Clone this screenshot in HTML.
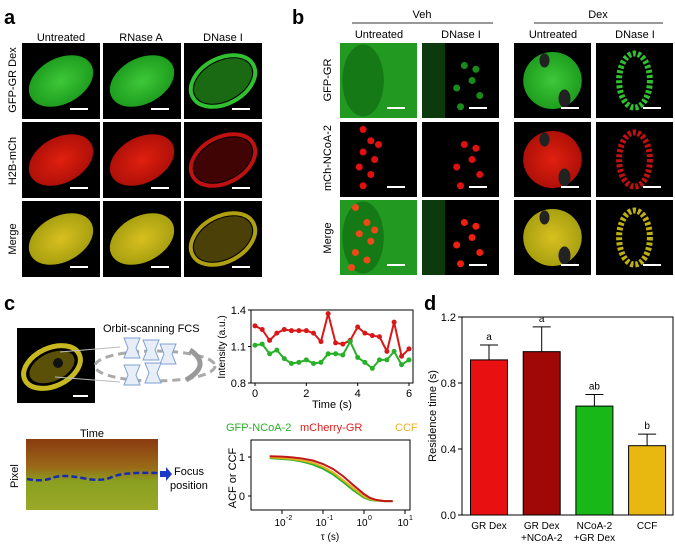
<!DOCTYPE html>
<html><head><meta charset="utf-8">
<style>
body{margin:0;background:#fff;}
#root{position:relative;width:675px;height:545px;overflow:hidden;font-family:"Liberation Sans",sans-serif;}
svg text{font-family:"Liberation Sans",sans-serif;}
</style></head>
<body>
<div id="root">
<svg id="fig" width="675" height="545" viewBox="0 0 675 545" xmlns="http://www.w3.org/2000/svg">
<defs>
<radialGradient id="gG"><stop offset="0" stop-color="#3fc83a"/><stop offset="1" stop-color="#1e9e1e"/></radialGradient>
<radialGradient id="gR"><stop offset="0" stop-color="#e02010"/><stop offset="1" stop-color="#b01008"/></radialGradient>
<radialGradient id="gY"><stop offset="0" stop-color="#d8c020"/><stop offset="1" stop-color="#a8a010"/></radialGradient>
<linearGradient id="kymo" x1="0" y1="0" x2="0" y2="1"><stop offset="0" stop-color="#8a3a10"/><stop offset="0.4" stop-color="#9a6a18"/><stop offset="0.6" stop-color="#8aa020"/><stop offset="1" stop-color="#9aa828"/></linearGradient>
</defs>

<!-- Panel a -->
<text x="4" y="24" font-size="20" font-weight="bold">a</text>
<g font-size="11" text-anchor="middle">
<text x="61" y="41">Untreated</text>
<text x="141" y="41">RNase A</text>
<text x="223" y="41">DNase I</text>
<text transform="translate(16,80) rotate(-90)">GFP-GR Dex</text>
<text transform="translate(16,161) rotate(-90)">H2B-mCh</text>
<text transform="translate(16,239) rotate(-90)">Merge</text>
</g>
<g id="aTiles"></g>

<!-- Panel b -->
<text x="292" y="24" font-size="20" font-weight="bold">b</text>
<g font-size="11" text-anchor="middle">
<text x="422" y="18">Veh</text>
<line x1="352" y1="23" x2="493" y2="23" stroke="#333" stroke-width="1"/>
<text x="598" y="18">Dex</text>
<line x1="534" y1="23" x2="663" y2="23" stroke="#333" stroke-width="1"/>
<text x="379" y="38">Untreated</text>
<text x="461" y="38">DNase I</text>
<text x="553" y="38">Untreated</text>
<text x="635" y="38">DNase I</text>
<text transform="translate(331,80) rotate(-90)">GFP-GR</text>
<text transform="translate(331,158) rotate(-90)">mCh-NCoA-2</text>
<text transform="translate(331,238) rotate(-90)">Merge</text>
</g>
<g id="bTiles"></g>

<!-- Panel c -->
<text x="4" y="310" font-size="20" font-weight="bold">c</text>
<rect x="17" y="328" width="78" height="75" fill="#000"/>
<ellipse cx="52" cy="367" rx="30" ry="19" transform="rotate(-25 52 367)" fill="none" stroke="#c8b820" stroke-width="5"/>
<ellipse cx="52" cy="367" rx="24" ry="14" transform="rotate(-25 52 367)" fill="#5a5008"/>
<circle cx="58" cy="363" r="5" fill="#111"/>
<line x1="73" y1="396" x2="88" y2="396" stroke="#fff" stroke-width="2"/>
<line x1="60" y1="352" x2="120" y2="347" stroke="#bbb"/><line x1="55" y1="377" x2="120" y2="382" stroke="#bbb"/>
<text x="103" y="332" font-size="11">Orbit-scanning FCS</text>
<ellipse cx="155" cy="366" rx="60" ry="15" fill="none" stroke="#aaa" stroke-width="3" stroke-dasharray="8 5"/>
<g fill="#e8eef8" stroke="#7ea0d0" stroke-width="1">
<path d="M124 338 h16 l-4 10 l4 10 h-16 l4 -10z"/><path d="M143 340 h16 l-4 10 l4 10 h-16 l4 -10z"/><path d="M160 344 h16 l-4 10 l4 10 h-16 l4 -10z"/>
<path d="M124 365 h16 l-4 10 l4 10 h-16 l4 -10z"/><path d="M145 363 h16 l-4 10 l4 10 h-16 l4 -10z"/>
</g>
<path d="M190 350 q22 15 -4 30" fill="none" stroke="#999" stroke-width="5"/>
<text x="92" y="437" font-size="11" text-anchor="middle">Time</text>
<rect x="26" y="439" width="132" height="71" fill="url(#kymo)"/>
<path d="M27 479 q15 3 25 -1 t30 0 t30 -1 t46 -4" fill="none" stroke="#1a2ab0" stroke-width="2.5" stroke-dasharray="6 3"/>
<path d="M160 471 l6 0 l0 -4 l6 7 l-6 7 l0 -4 l-6 0z" fill="#1a3ac8"/>
<text x="174" y="475" font-size="11">Focus</text>
<text x="170" y="489" font-size="11">position</text>
<text transform="translate(18,488) rotate(-90)" font-size="11">Pixel</text>

<g id="intChart"></g>
<g id="acfChart"></g>

<!-- Panel d -->
<text x="424" y="310" font-size="20" font-weight="bold">d</text>
<g id="barChart"></g>
</svg>
</div>
<script>
// ---- data ----
const intTimes = [0,0.28,0.57,0.85,1.14,1.42,1.71,2.0,2.28,2.57,2.85,3.14,3.42,3.71,4.0,4.28,4.57,4.85,5.14,5.42,5.71,6.0];
const intRed = [1.27,1.24,1.15,1.21,1.24,1.23,1.23,1.23,1.21,1.14,1.37,1.13,1.12,1.15,1.26,1.21,1.19,1.18,1.06,1.30,1.02,1.08];
const intGreen = [1.11,1.12,1.04,1.07,1.00,0.96,0.97,0.99,0.96,0.97,1.04,1.04,1.03,1.14,1.01,0.97,0.92,0.99,0.99,1.06,0.95,0.99];
const acfLogTau = [-2.3,-2,-1.75,-1.5,-1.25,-1,-0.75,-0.5,-0.25,0,0.15,0.3,0.5,0.7];
const acfGreen = [0.97,0.95,0.93,0.88,0.81,0.70,0.55,0.35,0.14,-0.04,-0.10,-0.12,-0.13,-0.13];
const acfRed = [1.02,1.01,0.99,0.96,0.91,0.82,0.69,0.50,0.27,0.05,-0.05,-0.10,-0.13,-0.13];
const acfCCF = [0.99,0.97,0.95,0.91,0.85,0.75,0.60,0.40,0.19,-0.01,-0.08,-0.11,-0.13,-0.13];
const barCats = ["GR Dex","GR Dex|+NCoA-2","NCoA-2|+GR Dex","CCF"];
const barVals = [0.94,0.99,0.66,0.42];
const barErr = [0.09,0.15,0.07,0.07];
const barSig = ["a","a","ab","b"];
const barTicks = [0.0,0.4,0.8,1.2];

const NS="http://www.w3.org/2000/svg";
function mk(parent,tag,attrs){const e=document.createElementNS(NS,tag);for(const k in attrs)e.setAttribute(k,attrs[k]);parent.appendChild(e);return e;}

// ---- microscopy tiles ----
function tile(g,x,y,w,h,kind,name){
  const t=mk(g,'g',{});
  
  
  mk(t,'rect',{x:x,y:y,width:w,height:h,fill:'#000'});
  const cx=x+w/2, cy=y+h/2;
  const col={G:'url(#gG)',R:'url(#gR)',Y:'url(#gY)'};
  if(kind.shape==='oval'){
    mk(t,'ellipse',{cx:cx,cy:cy,rx:w*0.44,ry:h*0.3,transform:`rotate(-28 ${cx} ${cy})`,fill:kind.ring?'none':col[kind.c],stroke:kind.ring?(kind.c==='G'?'#30c030':kind.c==='R'?'#c01010':'#b0a010'):'none','stroke-width':kind.ring?4:0});
    if(kind.ring) mk(t,'ellipse',{cx:cx,cy:cy,rx:w*0.4,ry:h*0.26,transform:`rotate(-28 ${cx} ${cy})`,fill:kind.c==='G'?'#1a6a14':kind.c==='R'?'#400404':'#4a4008'});
  } else if(kind.shape==='blob'){
    mk(t,'ellipse',{cx:cx,cy:cy,rx:w*0.38,ry:h*0.38,fill:col[kind.c]});
    mk(t,'ellipse',{cx:cx-8,cy:cy-20,rx:5,ry:7,fill:'#222'});
    mk(t,'ellipse',{cx:cx+12,cy:cy+18,rx:6,ry:9,fill:'#222'});
  } else if(kind.shape==='small'){
    mk(t,'ellipse',{cx:cx,cy:cy,rx:w*0.2,ry:h*0.36,fill:'none',stroke:kind.c==='G'?'#30c030':kind.c==='R'?'#c01010':'#c0b010','stroke-width':6,'stroke-dasharray':'3 2'});
  } else if(kind.shape==='cell'){
    mk(t,'rect',{x:x,y:y,width:w,height:h,fill:'#229a22'});
    mk(t,'ellipse',{cx:x+w*0.3,cy:cy,rx:w*0.27,ry:h*0.48,fill:'#157a15'});
    if(kind.dots) [[0.2,0.1],[0.35,0.3],[0.25,0.45],[0.4,0.55],[0.2,0.7],[0.35,0.8],[0.15,0.9],[0.45,0.4]].forEach(p=>mk(t,'circle',{cx:x+w*p[0],cy:y+h*p[1],r:3.5,fill:'#f04818'}));
  } else if(kind.shape==='dots'){
    if(kind.bg) mk(t,'rect',{x:x,y:y,width:w*0.3,height:h,fill:'#0c3a0c'});
    const pts=kind.sparse?[[0.55,0.3],[0.65,0.5],[0.45,0.6],[0.75,0.7],[0.5,0.85],[0.7,0.35]]:[[0.3,0.1],[0.4,0.25],[0.3,0.4],[0.45,0.5],[0.25,0.6],[0.4,0.7],[0.3,0.85],[0.5,0.3]];
    pts.forEach(p=>mk(t,'circle',{cx:x+w*p[0],cy:y+h*p[1],r:3.5,fill:kind.c}));
  }
  mk(t,'line',{x1:x+w-30,y1:y+h-10,x2:x+w-12,y2:y+h-10,stroke:'#fff','stroke-width':2});
}
const aG=document.getElementById('aTiles');
const aX=[22,103,184], aY=[43,122,201];
const aKinds=[[{shape:'oval',c:'G'},{shape:'oval',c:'G'},{shape:'oval',c:'G',ring:1}],
[{shape:'oval',c:'R'},{shape:'oval',c:'R'},{shape:'oval',c:'R',ring:1}],
[{shape:'oval',c:'Y'},{shape:'oval',c:'Y'},{shape:'oval',c:'Y',ring:1}]];
aY.forEach((y,r)=>aX.forEach((x,c)=>tile(aG,x,y,78,76,aKinds[r][c],'a-image-r'+(r+1)+'-c'+(c+1))));
const bG=document.getElementById('bTiles');
const bX=[340,422,514,596], bY=[43,122,200];
const bKinds=[[{shape:'cell'},{shape:'dots',c:'#1a8a1a',bg:1,sparse:1},{shape:'blob',c:'G'},{shape:'small',c:'G'}],
[{shape:'dots',c:'#e01010'},{shape:'dots',c:'#e01010',sparse:1},{shape:'blob',c:'R'},{shape:'small',c:'R'}],
[{shape:'cell',dots:1},{shape:'dots',c:'#f02010',bg:1,sparse:1},{shape:'blob',c:'Y'},{shape:'small',c:'Y'}]];
bY.forEach((y,r)=>bX.forEach((x,c)=>tile(bG,x,y,77,75,bKinds[r][c],'b-image-r'+(r+1)+'-c'+(c+1))));

// ---- intensity chart ----
(function(){
  const g=document.getElementById('intChart');
  const X=t=>255+t*(409-255)/6, Y=v=>383-(v-0.8)/0.6*73;
  mk(g,'rect',{x:251,y:310,width:162,height:73,fill:'none',stroke:'#000'});
  [0.8,1.1,1.4].forEach(v=>{mk(g,'line',{x1:248,y1:Y(v),x2:251,y2:Y(v),stroke:'#000'});const t=mk(g,'text',{x:246,y:Y(v)+4,'font-size':11,'text-anchor':'end'});t.textContent=v.toFixed(1);});
  [0,2,4,6].forEach(v=>{mk(g,'line',{x1:X(v),y1:383,x2:X(v),y2:386,stroke:'#000'});const t=mk(g,'text',{x:X(v),y:397,'font-size':11,'text-anchor':'middle'});t.textContent=v;});
  const xl=mk(g,'text',{x:332,y:408,'font-size':11,'text-anchor':'middle'});xl.textContent='Time (s)';
  
  
  const yl=mk(g,'text',{transform:'translate(225,347) rotate(-90)','font-size':10,'text-anchor':'middle'});yl.textContent='Intensity (a.u.)';
  
  
  [[intRed,'#d81818','red'],[intGreen,'#28b028','green']].forEach(([arr,c,n])=>{
    const p=mk(g,'polyline',{points:arr.map((v,i)=>X(intTimes[i])+','+Y(v)).join(' '),fill:'none',stroke:c,'stroke-width':2});
    
    
    arr.forEach((v,i)=>{const d=mk(g,'circle',{cx:X(intTimes[i]),cy:Y(v),r:2.5,fill:c});
      
      });
  });
})();

// ---- ACF chart ----
(function(){
  const g=document.getElementById('acfChart');
  const X=l=>282+(l+2)*41, Y=v=>496-v*39;
  mk(g,'rect',{x:251,y:440,width:159,height:70,fill:'none',stroke:'#000'});
  [-2,-1,0,1].forEach(l=>{mk(g,'line',{x1:X(l),y1:510,x2:X(l),y2:514,stroke:'#000'});
    const t=mk(g,'text',{x:X(l)-2,y:526,'font-size':10,'text-anchor':'middle'});t.textContent='10';
    const s=mk(g,'text',{x:X(l)+4,y:520,'font-size':7});s.textContent=String(l);});
  [0,1].forEach(v=>{mk(g,'line',{x1:248,y1:Y(v),x2:251,y2:Y(v),stroke:'#000'});const t=mk(g,'text',{x:245,y:Y(v)+4,'font-size':11,'text-anchor':'end'});t.textContent=v;});
  const xl=mk(g,'text',{x:330,y:540,'font-size':10,'text-anchor':'middle'});xl.textContent='τ (s)';
  
  
  const yl=mk(g,'text',{transform:'translate(236,478) rotate(-90)','font-size':11,'text-anchor':'middle'});yl.textContent='ACF or CCF';
  
  
  [['GFP-NCoA-2',226,'#28b028'],['mCherry-GR',300,'#e02020'],['CCF',395,'#f0b020']].forEach(([s,x,c])=>{const t=mk(g,'text',{x:x,y:431,'font-size':11,fill:c});t.textContent=s;
    
    });
  [[acfGreen,'#28b028','green'],[acfCCF,'#e0b020','ccf'],[acfRed,'#c01818','red']].forEach(([arr,c,n])=>{
    const p=mk(g,'polyline',{points:arr.map((v,i)=>X(acfLogTau[i])+','+Y(v)).join(' '),fill:'none',stroke:c,'stroke-width':2});
    
    
  });
})();

// ---- bar chart ----
(function(){
  const g=document.getElementById('barChart');
  const Y=v=>515-v*165, X=i=>489+i*52.7;
  const cols=['#e81010','#a00808','#18b818','#e8b810'];
  mk(g,'rect',{x:462,y:317,width:211,height:198,fill:'none',stroke:'#000'});
  barTicks.forEach(v=>{mk(g,'line',{x1:458,y1:Y(v),x2:462,y2:Y(v),stroke:'#000'});const t=mk(g,'text',{x:456,y:Y(v)+4,'font-size':11,'text-anchor':'end'});t.textContent=v.toFixed(1);});
  const yl=mk(g,'text',{transform:'translate(436,416) rotate(-90)','font-size':11,'text-anchor':'middle'});yl.textContent='Residence time (s)';
  
  
  barVals.forEach((v,i)=>{
    const x=X(i);
    mk(g,'line',{x1:x,y1:Y(v),x2:x,y2:Y(v+barErr[i]),stroke:'#000'});
    mk(g,'line',{x1:x-9,y1:Y(v+barErr[i]),x2:x+9,y2:Y(v+barErr[i]),stroke:'#000'});
    const b=mk(g,'rect',{x:x-18.5,y:Y(v),width:37,height:515-Y(v),fill:cols[i],stroke:'#000'});
    
    
    const s=mk(g,'text',{x:x,y:Y(v+barErr[i])-5,'font-size':10,'text-anchor':'middle'});s.textContent=barSig[i];
    barCats[i].split('|').forEach((ln,k)=>{const t=mk(g,'text',{x:x,y:529+k*12,'font-size':10,'text-anchor':'middle'});t.textContent=ln;
      
      });
  });
})();
</script>
</body></html>
